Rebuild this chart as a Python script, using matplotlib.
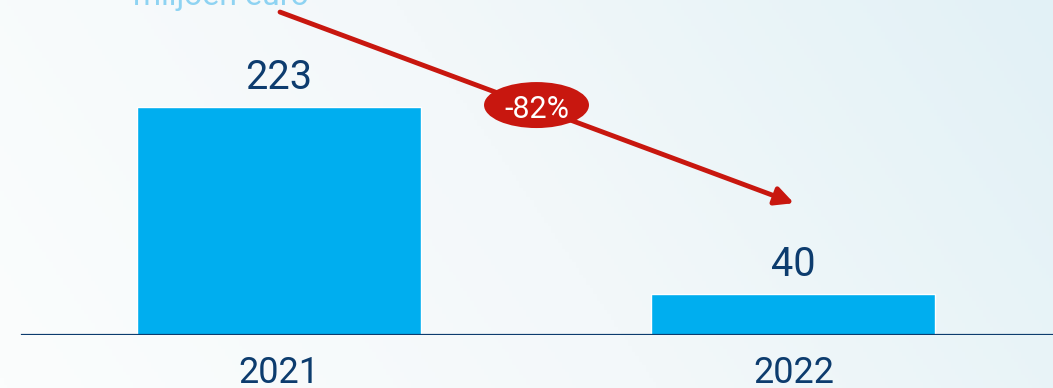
import numpy as np
import matplotlib
matplotlib.use("Agg")
import matplotlib.pyplot as plt
from matplotlib.colors import LinearSegmentedColormap
from matplotlib.patches import Ellipse

# ── Data ──────────────────────────────────────────────────────────────────────
years = ["2021", "2022"]
values = [223, 40]
change_label = "-82%"
unit_label = "miljoen euro"

NAVY = "#0d3c6e"
BAR = "#00aeef"
RED = "#c8170f"
LIGHT = "#8ed3f2"

plt.rcParams["font.family"] = ["Roboto", "DejaVu Sans"]

fig = plt.figure(figsize=(10.53, 3.88), dpi=100)

# soft white-to-ice-blue backdrop
bg = fig.add_axes([0, 0, 1, 1], zorder=0)
cmap = LinearSegmentedColormap.from_list("bg", ["#fbfdfd", "#f3f8fa", "#e2f1f6"])
gx, gy = np.meshgrid(np.linspace(0, 1, 300), np.linspace(0, 1, 120))
bg.imshow(0.8 * gx + 0.2 * gy, cmap=cmap, aspect="auto", origin="lower",
          extent=[0, 1, 0, 1])
bg.axis("off")

ax = fig.add_axes([0, 53 / 388, 1, 335 / 388], zorder=1)
ax.patch.set_alpha(0)
x = np.arange(len(years))
ax.bar(x, values, width=0.552, color=BAR, edgecolor="white", linewidth=1, zorder=2)
ax.set_xlim(-0.5423, 1.5044)
ax.set_ylim(0, 327.8)
ax.axis("off")

# baseline
ax.axhline(0, xmin=22 / 1053, xmax=1, color=NAVY, lw=1.6, zorder=3)

for xi, v, yr in zip(x, values, years):
    ax.text(xi, v + 17.5, f"{v}", ha="center", va="baseline", fontsize=28.5,
            color=NAVY)
    ax.text(xi, -47, yr, ha="center", va="baseline", fontsize=26, color=NAVY,
            clip_on=False)

ax.text(-0.284, 323, unit_label, ha="left", va="baseline",
        fontsize=23, color=LIGHT, clip_on=False)

# decline arrow with percentage badge
ax.annotate("", xy=(1.001, 129), xytext=(0.002, 316),
            arrowprops=dict(arrowstyle="-|>,head_length=1.1,head_width=0.55",
                            color=RED, lw=3.5, shrinkA=0, shrinkB=0),
            annotation_clip=False, zorder=4)
ax.add_patch(Ellipse((0.5005, 225), 0.204, 45, fc=RED, ec="none", zorder=5))
ax.text(0.5015, 212.3, change_label, ha="center", va="baseline", fontsize=22,
        color="white", zorder=6)

fig.savefig("out.png", dpi=100)
